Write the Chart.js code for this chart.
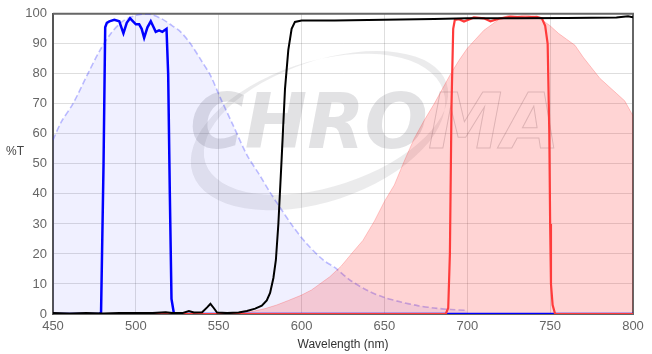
<!DOCTYPE html>
<html>
<head>
<meta charset="utf-8">
<script src="https://cdn.jsdelivr.net/npm/chart.js@4.4.1/dist/chart.umd.min.js"></script>
<style>
  html, body { margin: 0; padding: 0; background: #fff; }
  #wrap { width: 652px; height: 354px; position: relative; }
</style>
</head>
<body>
<div id="wrap"><canvas id="spectraChart"></canvas></div>
<script>
// x axis / y axis ticks
const xTicks = [450, 500, 550, 600, 650, 700, 750, 800];
const yTicks = [0, 10, 20, 30, 40, 50, 60, 70, 80, 90, 100];

// excitation spectrum (dashed blue, filled)
const exWl = [450, 455, 462, 471, 478, 485, 492, 500, 507, 515, 522, 527, 533, 540, 545, 551, 559, 567, 575, 581, 587, 595, 603, 613, 620, 630, 641, 650, 660, 670, 680, 690, 700];
const exT  = [58, 64, 70, 80, 87.5, 93.5, 97.5, 99.5, 100, 98.5, 96, 94, 90, 84, 79.5, 72, 62.5, 53, 46, 40.5, 35.5, 29, 23.5, 18, 15.5, 11, 7.5, 5.5, 4, 2.8, 2, 1.5, 1.2];

// emission spectrum (red, filled)
const emWl = [555, 562, 570, 578, 585, 592, 600, 606, 611, 617, 624, 630, 637, 644, 650, 656, 662, 668, 674, 680, 686, 690, 695, 700, 705, 710, 715, 720, 725, 730, 735, 740, 745, 750, 755, 760, 765, 770, 775, 780, 785, 790, 795, 800];
const emT  = [0, 0.3, 0.8, 1.8, 3, 4.5, 6.3, 8, 10, 12.4, 16, 20, 24.5, 31, 37.5, 43, 51, 58.5, 64.5, 70, 76, 80, 84.5, 88.5, 91.5, 94.5, 96.5, 98.5, 99.5, 99.2, 99.6, 99.2, 98, 96, 93.5, 91.5, 89.5, 85.5, 82, 78.5, 76, 73.5, 71, 66];

// excitation filter (blue bandpass)
const exFiltWl = [450, 478, 479, 480.5, 481.5, 482.5, 484, 487, 490, 492.5, 494.5, 496.5, 500, 502, 503.5, 505, 507, 509, 512, 514, 516, 518.5, 519.5, 520.5, 521.5, 523, 800];
const exFiltT  = [0, 0, 0.5, 50, 95.5, 97, 97.5, 98, 97.5, 93.5, 97, 98.5, 96.5, 96.5, 95, 92, 95.5, 97.5, 94, 94.5, 94, 95, 80, 40, 5, 0, 0];

// dichroic (black longpass)
const dichWl = [450, 460, 470, 480, 490, 500, 510, 518, 522, 528, 532, 535, 540, 543, 545, 547, 549, 555, 562, 567, 572, 576, 579, 581, 583, 584.5, 586, 588, 590, 592, 594, 596, 600, 620, 650, 680, 700, 730, 760, 790, 797, 800];
const dichT  = [0.3, 0.2, 0.3, 0.2, 0.3, 0.3, 0.3, 0.6, 0.3, 0.3, 1.0, 0.5, 0.6, 2.2, 3.4, 2.0, 0.5, 0.3, 0.5, 1.0, 1.8, 2.8, 4.5, 7, 12, 18, 30, 52, 75, 88, 95, 97.3, 97.8, 97.8, 98, 98.3, 98.5, 98.5, 98.6, 98.8, 99.2, 98.8];

// emission filter (red bandpass)
const emFiltWl = [450, 687, 688.5, 689.5, 690.5, 691.5, 692.5, 695, 698, 704, 710, 714, 720, 726, 735, 742, 745, 747, 748.5, 749.5, 750, 750.5, 751.5, 753, 800];
const emFiltT  = [0, 0, 2, 20, 70, 95, 98, 98.2, 97.4, 98.8, 98.5, 97.5, 98.5, 99, 98.8, 99, 98.5, 96, 90, 60, 30, 10, 3, 0, 0];

function pts(wl, t) {
    return wl.map(function(w, i) { return { x: w, y: t[i] }; });
}

const watermark = {
    id: 'watermark',
    beforeDatasetsDraw(chart) {
        const ctx = chart.ctx;
        const a = chart.chartArea;
        ctx.save();
        // swoosh
        ctx.fillStyle = 'rgba(110,110,120,0.14)';
        ctx.beginPath();
        ctx.ellipse(318, 132, 132, 70, -0.32, 0, Math.PI * 2);
        ctx.ellipse(326, 123, 127, 63, -0.32, 0, Math.PI * 2);
        ctx.fill('evenodd');
        // letters
        ctx.font = 'italic bold 76px "DejaVu Sans", "Liberation Sans", Arial, sans-serif';
        ctx.textBaseline = 'alphabetic';
        const w1 = ctx.measureText('CHRO').width;
        const w2 = ctx.measureText('MA').width;
        const sx = 370 / (w1 + w2);
        ctx.translate(190, 148);
        ctx.scale(sx, 1);
        ctx.fillStyle = 'rgba(110,110,120,0.2)';
        ctx.fillText('CHRO', 0, 0);
        ctx.strokeStyle = 'rgba(110,110,120,0.28)';
        ctx.lineWidth = 1;
        ctx.strokeText('MA', w1, 0);
        ctx.restore();

        // frame: top and right border
        ctx.save();
        ctx.strokeStyle = '#666';
        ctx.lineWidth = 2;
        ctx.beginPath();
        ctx.moveTo(a.left, a.top);
        ctx.lineTo(a.right, a.top);
        ctx.lineTo(a.right, a.bottom);
        ctx.stroke();
        ctx.restore();
    },
    afterDraw(chart) {
        const ctx = chart.ctx;
        ctx.save();
        ctx.fillStyle = '#444';
        ctx.font = '12px "Liberation Sans", Arial, sans-serif';
        ctx.textAlign = 'center';
        ctx.textBaseline = 'middle';
        ctx.fillText('%T', 15, 152);
        ctx.restore();
    }
};

const ctx = document.getElementById('spectraChart').getContext('2d');
const spectraChart = new Chart(ctx, {
    type: 'line',
    data: {
        datasets: [
            {
                label: 'Dichroic',
                data: pts(dichWl, dichT),
                borderColor: '#000',
                borderWidth: 2,
                pointRadius: 0,
                fill: false,
                order: 0
            },
            {
                label: 'Emission filter',
                data: pts(emFiltWl, emFiltT),
                borderColor: '#ff3b3b',
                borderWidth: 2.2,
                pointRadius: 0,
                fill: false,
                order: 1
            },
            {
                label: 'Excitation filter',
                data: pts(exFiltWl, exFiltT),
                borderColor: '#0000ff',
                borderWidth: 2.5,
                pointRadius: 0,
                fill: false,
                order: 2
            },
            {
                label: 'Emission',
                data: pts(emWl, emT),
                borderColor: 'rgba(255,0,0,0.2)',
                backgroundColor: 'rgba(255,0,0,0.17)',
                borderWidth: 1,
                pointRadius: 0,
                fill: 'origin',
                order: 3
            },
            {
                label: 'Excitation',
                data: pts(exWl, exT),
                borderColor: 'rgba(40,40,255,0.3)',
                backgroundColor: 'rgba(0,0,255,0.06)',
                borderWidth: 1.6,
                borderDash: [6, 3],
                pointRadius: 0,
                tension: 0.3,
                fill: 'origin',
                order: 4
            }
        ]
    },
    options: {
        responsive: true,
        maintainAspectRatio: false,
        animation: false,
        devicePixelRatio: 1,
        layout: { padding: { left: 0, right: 19, top: 10, bottom: 0 } },
        plugins: {
            legend: { display: false },
            tooltip: { enabled: false }
        },
        scales: {
            x: {
                type: 'linear',
                min: 450,
                max: 800,
                afterFit: function(scale) { scale.height = 40; },
                afterBuildTicks: function(scale) { scale.ticks = xTicks.map(function(v) { return { value: v }; }); },
                ticks: {
                    color: '#666',
                    padding: 5,
                    font: { size: 13, family: '"Liberation Sans", Arial, sans-serif' }
                },
                grid: { color: 'rgba(0,0,0,0.13)', drawTicks: false },
                border: { color: '#666', width: 2 },
                title: {
                    display: true,
                    text: 'Wavelength (nm)',
                    color: '#333',
                    padding: { top: 0, bottom: 2 },
                    font: { size: 12, family: '"Liberation Sans", Arial, sans-serif' }
                }
            },
            y: {
                min: 0,
                max: 100,
                afterFit: function(scale) { scale.width = 53; },
                afterBuildTicks: function(scale) { scale.ticks = yTicks.map(function(v) { return { value: v }; }); },
                ticks: {
                    color: '#666',
                    padding: 6,
                    font: { size: 13, family: '"Liberation Sans", Arial, sans-serif' }
                },
                grid: { color: 'rgba(0,0,0,0.13)', drawTicks: false },
                border: { color: '#555', width: 2 }
            }
        }
    },
    plugins: [watermark]
});
</script>
</body>
</html>
